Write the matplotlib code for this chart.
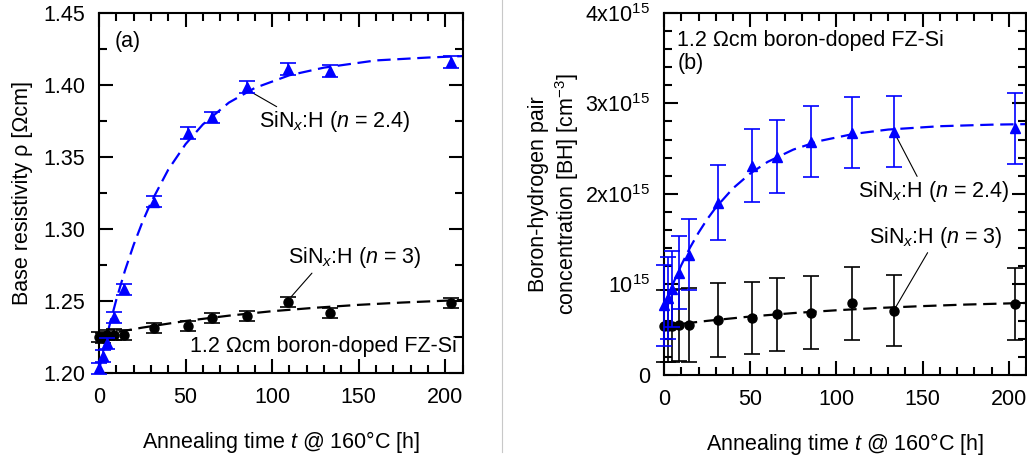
import matplotlib
matplotlib.use('Agg')
import matplotlib.pyplot as plt
from matplotlib.ticker import MultipleLocator, FixedLocator, FixedFormatter
from matplotlib.lines import Line2D

plt.rcParams['font.family'] = ['Liberation Sans', 'DejaVu Sans']
plt.rcParams['mathtext.fontset'] = 'custom'
plt.rcParams['mathtext.rm'] = 'Liberation Sans'
plt.rcParams['mathtext.it'] = 'Liberation Sans:italic'
FS = 15.5

# annealing times [h]
t = [0, 2.5, 4.8, 8.7, 14.5, 31.5, 51.3, 65.3, 85.3, 109, 133.5, 203.5]

# (a) base resistivity [Ohm cm]
rho_24 = [1.2033, 1.212, 1.2206, 1.2387, 1.2581, 1.319, 1.3665, 1.3775, 1.3984, 1.4109, 1.4097, 1.416]
rho_24_err = [0.004, 0.004, 0.004, 0.004, 0.004, 0.004, 0.004, 0.004, 0.004, 0.004, 0.004, 0.004]
rho_3 = [1.2253, 1.2245, 1.2262, 1.2268, 1.2265, 1.2316, 1.2328, 1.2381, 1.2397, 1.2496, 1.2416, 1.2489]
rho_3_err = [0.0035, 0.0035, 0.0035, 0.0035, 0.0035, 0.0035, 0.0035, 0.0035, 0.0035, 0.0035, 0.0035, 0.0035]

# (a) dashed fit curves
fit_t_a = [0, 3, 6, 10, 15, 20, 25, 30, 40, 50, 60, 75, 90, 110, 130, 160, 190, 210]
fit_rho_24 = [1.202, 1.218, 1.2329, 1.251, 1.2712, 1.289, 1.3046, 1.3184, 1.3412, 1.3589, 1.3726,
              1.3877, 1.3979, 1.4067, 1.412, 1.417, 1.419, 1.420]
fit_t_a3 = [0, 10, 25, 50, 75, 100, 125, 150, 175, 210]
fit_rho_3 = [1.226, 1.2284, 1.2316, 1.2362, 1.2399, 1.243, 1.2454, 1.2474, 1.249, 1.2508]

# (b) boron-hydrogen pair concentration [1e15 cm^-3]
bh_24 = [0.77, 0.85, 0.95, 1.13, 1.33, 1.904, 2.313, 2.412, 2.578, 2.678, 2.689, 2.726]
bh_24_err = [0.45, 0.45, 0.42, 0.40, 0.39, 0.41, 0.40, 0.40, 0.39, 0.39, 0.39, 0.39]
bh_3 = [0.54, 0.54, 0.54, 0.55, 0.55, 0.61, 0.63, 0.67, 0.69, 0.79, 0.71, 0.785]
bh_3_err = [0.40, 0.40, 0.40, 0.40, 0.41, 0.41, 0.40, 0.40, 0.40, 0.40, 0.39, 0.40]

fit_t_b = [0, 3, 6, 10, 15, 20, 25, 30, 40, 50, 60, 75, 90, 110, 130, 160, 190, 210]
fit_bh_24 = [0.75, 0.902, 1.043, 1.214, 1.405, 1.572, 1.72, 1.849, 2.062, 2.226, 2.353, 2.49,
             2.584, 2.663, 2.711, 2.748, 2.765, 2.771]
fit_t_b3 = [0, 10, 25, 50, 75, 100, 125, 150, 175, 210]
fit_bh_3 = [0.54, 0.565, 0.598, 0.646, 0.684, 0.715, 0.741, 0.761, 0.778, 0.796]

bh_ticks = [0, 1, 2, 3, 4]
bh_labels = ['0', r'$\mathregular{10^{15}}$', r'$\mathregular{2x10^{15}}$',
             r'$\mathregular{3x10^{15}}$', r'$\mathregular{4x10^{15}}$']

blue = '#0000ff'
dash = (6, 3)

fig = plt.figure(figsize=(10.27, 4.59), dpi=100)
ax1 = fig.add_axes([0.0964, 0.187, 0.354, 0.785])
ax2 = fig.add_axes([0.6466, 0.183, 0.3525, 0.789])

fig.add_artist(Line2D([0.489, 0.489], [0.015, 1.0], color='#c8c8c8', lw=0.8))


def style(ax):
    for s in ax.spines.values():
        s.set_linewidth(1.5)
    ax.tick_params(which='both', direction='in', top=True, right=True, width=1.5, labelsize=FS)
    ax.tick_params(which='major', length=10, pad=10)
    ax.tick_params(which='minor', length=5.5)
    ax.set_xlim(0, 210)
    ax.xaxis.set_major_locator(MultipleLocator(50))
    ax.xaxis.set_minor_locator(MultipleLocator(10))
    ax.set_xlabel(r'Annealing time $t$ @ 160°C [h]', fontsize=FS, labelpad=15)


# ---- (a) ----
ax1.plot(fit_t_a, fit_rho_24, color=blue, lw=1.6, dashes=dash, zorder=2)
ax1.plot(fit_t_a3, fit_rho_3, color='black', lw=1.6, dashes=dash, zorder=2)
ax1.errorbar(t, rho_3, yerr=rho_3_err, fmt='o', color='black', ms=6.5, capsize=6,
             elinewidth=1.2, capthick=1.2, zorder=3, clip_on=False)
ax1.errorbar(t, rho_24, yerr=rho_24_err, fmt='^', color=blue, ms=7.5, capsize=6,
             elinewidth=1.2, capthick=1.2, zorder=4, clip_on=False)
style(ax1)
ax1.set_ylim(1.20, 1.45)
ax1.yaxis.set_major_locator(MultipleLocator(0.05))
ax1.yaxis.set_minor_locator(MultipleLocator(0.025))
ax1.yaxis.set_major_formatter(plt.FormatStrFormatter('%.2f'))
ax1.set_ylabel('Base resistivity ρ [Ωcm]', fontsize=FS, labelpad=7)

ax1.text(9.3, 1.430, '(a)', fontsize=FS, va='center', ha='left')
ax1.annotate(r'SiN$_x$:H ($n$ = 2.4)', xy=(87.7, 1.3952), xytext=(92.3, 1.3743),
             fontsize=FS, va='center', ha='left',
             arrowprops=dict(arrowstyle='-', lw=0.8, color='black', shrinkA=0, shrinkB=0,
                             relpos=(0.15, 1.0)))
ax1.annotate(r'SiN$_x$:H ($n$ = 3)', xy=(111, 1.253), xytext=(109, 1.280),
             fontsize=FS, va='center', ha='left',
             arrowprops=dict(arrowstyle='-', lw=0.8, color='black', shrinkA=0, shrinkB=0,
                             relpos=(0.2, 0.0)))
ax1.text(206.7, 1.2184, '1.2 Ωcm boron-doped FZ-Si', fontsize=FS, va='center', ha='right')

# ---- (b) ----
ax2.plot(fit_t_b, fit_bh_24, color=blue, lw=1.6, dashes=dash, zorder=2)
ax2.plot(fit_t_b3, fit_bh_3, color='black', lw=1.6, dashes=dash, zorder=2)
ax2.errorbar(t, bh_3, yerr=bh_3_err, fmt='o', color='black', ms=6.5, capsize=6,
             elinewidth=1.2, capthick=1.2, zorder=3, clip_on=False)
ax2.errorbar(t, bh_24, yerr=bh_24_err, fmt='^', color=blue, ms=7.5, capsize=6,
             elinewidth=1.2, capthick=1.2, zorder=4, clip_on=False)
style(ax2)
ax2.set_ylim(0, 4)
ax2.yaxis.set_major_locator(FixedLocator(bh_ticks))
ax2.yaxis.set_major_formatter(FixedFormatter(bh_labels))
ax2.yaxis.set_minor_locator(MultipleLocator(0.2))
ax2.set_ylabel('Boron-hydrogen pair\nconcentration [BH] [cm$^{\\mathregular{-3}}$]',
               fontsize=FS, labelpad=3)

ax2.text(7.4, 3.70, '1.2 Ωcm boron-doped FZ-Si', fontsize=FS, va='center', ha='left')
ax2.text(8.1, 3.44, '(b)', fontsize=FS, va='center', ha='left')
ax2.annotate(r'SiN$_x$:H ($n$ = 2.4)', xy=(133.2, 2.69), xytext=(200.3, 2.025),
             fontsize=FS, va='center', ha='right',
             arrowprops=dict(arrowstyle='-', lw=0.8, color='black', shrinkA=0, shrinkB=0,
                             relpos=(0.4, 1.0)))
ax2.annotate(r'SiN$_x$:H ($n$ = 3)', xy=(134, 0.737), xytext=(119, 1.52),
             fontsize=FS, va='center', ha='left',
             arrowprops=dict(arrowstyle='-', lw=0.8, color='black', shrinkA=0, shrinkB=0,
                             relpos=(0.45, 0.0)))

fig.savefig('out.png', dpi=100)
